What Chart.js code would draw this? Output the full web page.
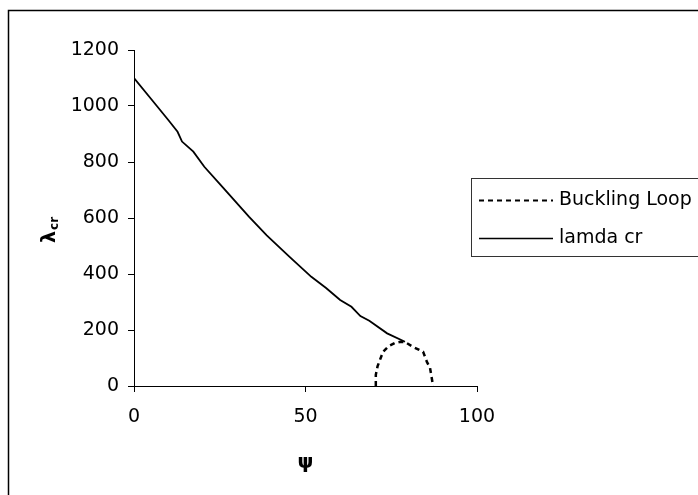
<!DOCTYPE html>
<html>
<head>
<meta charset="utf-8">
<script src="https://cdn.jsdelivr.net/npm/chart.js@4.4.1/dist/chart.umd.min.js"></script>
<style>
  html, body { margin: 0; padding: 0; background: #fff; }
  #wrap { width: 698px; height: 495px; }
</style>
</head>
<body>
<div id="wrap"><canvas id="c" width="698" height="495"></canvas></div>
<script>
// ---- data ----
const seriesNames = ["Buckling Loop", "lamda cr"];
const psiCr   = [0, 5, 10, 12.7, 14, 17.3, 20.5, 25.7, 33.5, 38.7, 45.2, 51.7, 56, 60.1, 63.4, 66, 68.6, 73.8, 79];
const lamdaCr = [1100, 1025, 950, 908, 873, 837, 783, 712, 605, 538, 463, 390, 350, 307, 283, 250, 233, 188, 158];
const psiLoop   = [70.5, 70.5, 71, 71.7, 72.6, 74.2, 76.1, 77.8, 79, 81.3, 83, 84.3, 85.4, 86.3, 87.2];
const lamdaLoop = [0, 40, 70, 93, 122, 142, 154, 158, 157, 140, 130, 122, 86, 65, 0];
const xTicks = [0, 50, 100];
const yTicks = [0, 200, 400, 600, 800, 1000, 1200];
const xTitle = "ψ";
const yTitleMain = "λ";
const yTitleSub = "cr";

const FONT = "'DejaVu Sans', sans-serif";

function pts(xs, ys) { return xs.map((x, i) => ({ x: x, y: ys[i] })); }

const frame = {
  id: 'frame',
  beforeDraw(chart) {
    const ctx = chart.ctx;
    ctx.save();
    ctx.fillStyle = '#fff';
    ctx.fillRect(0, 0, chart.width, chart.height);
    ctx.strokeStyle = '#000';
    ctx.lineWidth = 1.5;
    ctx.strokeRect(8.5, 10.5, 720, 520);
    ctx.restore();
  },
  afterDraw(chart) {
    const ctx = chart.ctx;
    ctx.save();
    // y axis title with subscript
    ctx.fillStyle = '#000';
    ctx.translate(55, 243);
    ctx.rotate(-Math.PI / 2);
    ctx.textBaseline = 'alphabetic';
    ctx.textAlign = 'left';
    ctx.font = "bold 19px " + FONT;
    ctx.fillText(yTitleMain, 0, 0);
    const w = ctx.measureText(yTitleMain).width;
    ctx.font = "bold 12px " + FONT;
    ctx.fillText(yTitleSub, w + 1, 3);
    ctx.restore();

    // legend
    ctx.save();
    ctx.strokeStyle = '#333';
    ctx.lineWidth = 1;
    ctx.strokeRect(471.5, 178.5, 260, 78);
    const ds = chart.data.datasets;
    const rows = [200, 238];
    ds.forEach((d, i) => {
      ctx.beginPath();
      ctx.strokeStyle = '#000';
      ctx.lineWidth = i === 0 ? 2 : 1.5;
      ctx.setLineDash(d.borderDash || []);
      ctx.moveTo(479, rows[i] + 0.5);
      ctx.lineTo(553, rows[i] + 0.5);
      ctx.stroke();
      ctx.setLineDash([]);
      ctx.fillStyle = '#000';
      ctx.font = "19px " + FONT;
      ctx.textBaseline = 'middle';
      ctx.textAlign = 'left';
      ctx.fillText(d.label, 559, rows[i]);
    });
    ctx.restore();
  }
};

new Chart(document.getElementById('c'), {
  type: 'scatter',
  data: {
    datasets: [
      {
        label: seriesNames[0],
        data: pts(psiLoop, lamdaLoop),
        showLine: true,
        borderColor: '#000',
        borderWidth: 2.5,
        borderDash: [5, 4],
        pointRadius: 0,
        tension: 0,
        fill: false
      },
      {
        label: seriesNames[1],
        data: pts(psiCr, lamdaCr),
        showLine: true,
        borderColor: '#000',
        borderWidth: 1.8,
        pointRadius: 0,
        tension: 0,
        fill: false
      }
    ]
  },
  options: {
    responsive: false,
    animation: false,
    layout: { padding: { left: 0, top: 50, right: 221, bottom: 0 } },
    plugins: {
      legend: { display: false },
      tooltip: { enabled: false }
    },
    scales: {
      x: {
        type: 'linear',
        min: 0, max: 100,
        afterBuildTicks(scale) { scale.ticks = xTicks.map(v => ({ value: v })); },
        afterFit(scale) { scale.height = 109; },
        grid: { display: true, drawOnChartArea: false, drawTicks: true, tickLength: 6, color: '#000', lineWidth: 1 },
        border: { display: true, color: '#000', width: 1 },
        ticks: { color: '#000', font: { family: FONT, size: 19 }, padding: 14, maxRotation: 0, callback: v => String(v) },
        title: { display: true, text: xTitle, color: '#000', font: { family: FONT, size: 20, weight: 'bold' }, padding: { top: 0, bottom: 20 } }
      },
      y: {
        type: 'linear',
        min: 0, max: 1200,
        afterBuildTicks(scale) { scale.ticks = yTicks.map(v => ({ value: v })); },
        afterFit(scale) { scale.width = 134; },
        grid: { display: true, drawOnChartArea: false, drawTicks: true, tickLength: 6, color: '#000', lineWidth: 1 },
        border: { display: true, color: '#000', width: 1 },
        ticks: { color: '#000', font: { family: FONT, size: 19 }, padding: 9, callback: v => String(v) }
      }
    }
  },
  plugins: [frame]
});
</script>
</body>
</html>
